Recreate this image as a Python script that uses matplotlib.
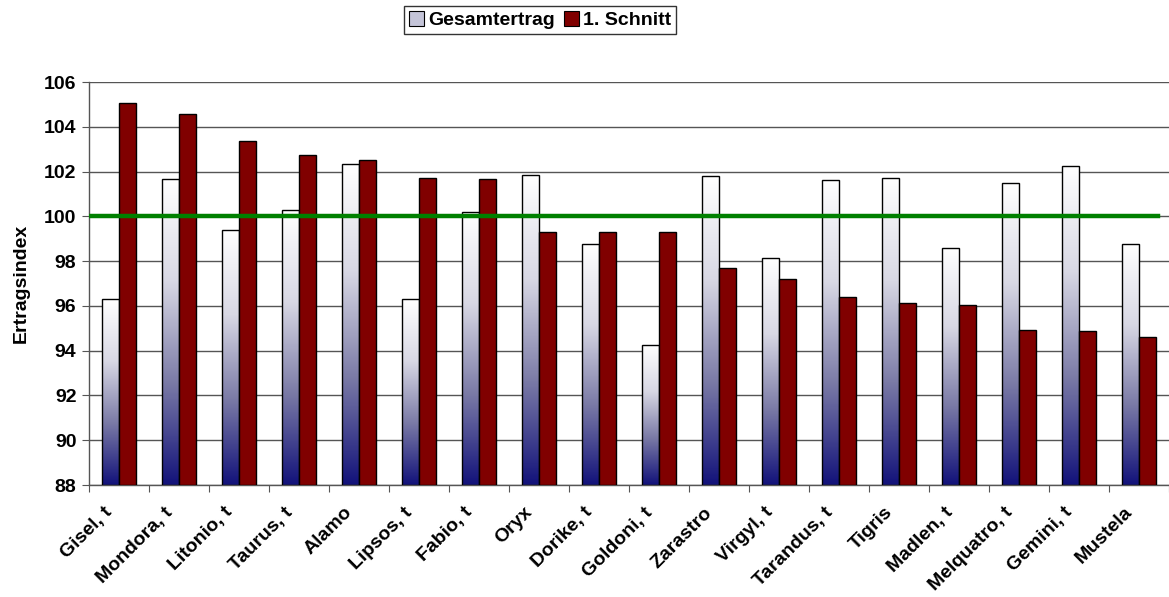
import matplotlib.pyplot as plt
import matplotlib.transforms as mtransforms
import numpy as np
from matplotlib.colors import LinearSegmentedColormap
from matplotlib.patches import Patch

plt.rcParams['font.family'] = ['Liberation Sans', 'DejaVu Sans']
plt.rcParams['font.weight'] = 'bold'

sorten = ['Gisel, t', 'Mondora, t', 'Litonio, t', 'Taurus, t', 'Alamo', 'Lipsos, t',
          'Fabio, t', 'Oryx', 'Dorike, t', 'Goldoni, t', 'Zarastro', 'Virgyl, t',
          'Tarandus, t', 'Tigris', 'Madlen, t', 'Melquatro, t', 'Gemini, t', 'Mustela']
gesamtertrag = [96.3, 101.65, 99.4, 100.27, 102.32, 96.3, 100.19, 101.83, 98.75,
                94.27, 101.8, 98.13, 101.62, 101.7, 98.6, 101.5, 102.25, 98.75]
schnitt1 = [105.05, 104.57, 103.37, 102.74, 102.53, 101.7, 101.68, 99.3, 99.28,
            99.28, 97.69, 97.22, 96.42, 96.15, 96.05, 94.92, 94.87, 94.63]
referenz = 100
yticks = np.arange(88, 107, 2)

# weiss -> lila-grau -> dunkelblau (Excel-Verlauf)
cmap = LinearSegmentedColormap.from_list('verlauf', ['#12127a', '#7a7aa6', '#d8d8e4', '#ffffff'])

fig = plt.figure(figsize=(11.69, 5.97), dpi=100)
ax = fig.add_axes([0.0761, 0.1876, 0.9239, 0.675])

x = np.arange(len(sorten))
w = 0.283
b1 = ax.bar(x - w / 2, np.array(gesamtertrag) - 88, w, bottom=88, facecolor='none',
            edgecolor='black', linewidth=1.0, zorder=3)
b2 = ax.bar(x + w / 2, np.array(schnitt1) - 88, w, bottom=88, color='#800000',
            edgecolor='black', linewidth=1.0, zorder=3)

grad = np.linspace(0, 1, 256).reshape(-1, 1)
for r in b1:
    x0, y0 = r.get_x(), r.get_y()
    im = ax.imshow(grad, cmap=cmap, origin='lower', aspect='auto',
                   extent=[x0, x0 + r.get_width(), y0, y0 + r.get_height()], zorder=2.5)
    im.set_clip_path(r)

ax.axhline(referenz, xmin=0, xmax=0.99, color='#008000', linewidth=3.2, zorder=4)

ax.set_xlim(-0.5, len(sorten) - 0.5)
ax.set_ylim(88, 106)
ax.set_yticks(yticks)
ax.tick_params(axis='y', labelsize=14, length=5, color='#555555', pad=4)
ax.yaxis.grid(True, color='#555555', linewidth=1.0, zorder=0)
ax.set_axisbelow(True)

ax.set_xticks(np.arange(len(sorten) + 1) - 0.5)
ax.set_xticklabels([])
ax.tick_params(axis='x', which='major', length=5, color='#555555')
ax.set_xticks(x, minor=True)
ax.set_xticklabels(sorten, minor=True, rotation=45, ha='right', va='center',
                   rotation_mode='anchor', fontsize=14)
ax.tick_params(axis='x', which='minor', length=0, pad=18)
# Beschriftungen etwas nach links schieben
shift = mtransforms.ScaledTranslation(-9 / 100, 0, fig.dpi_scale_trans)
for lbl in ax.get_xticklabels(minor=True):
    lbl.set_transform(lbl.get_transform() + shift)

for s in ['top', 'right']:
    ax.spines[s].set_visible(False)
for s in ['left', 'bottom']:
    ax.spines[s].set_color('#555555')
    ax.spines[s].set_linewidth(1.0)

ax.set_ylabel('Ertragsindex', fontsize=14, fontweight='bold', labelpad=10)

handles = [Patch(facecolor='#c4c4d8', edgecolor='black', linewidth=0.8),
           Patch(facecolor='#800000', edgecolor='black', linewidth=0.8)]
leg = fig.legend(handles, ['Gesamtertrag', '1. Schnitt'], loc='center',
                 bbox_to_anchor=(0.462, 0.966), ncol=2, fontsize=14, frameon=True,
                 fancybox=False, edgecolor='black', handlelength=0.75, handleheight=0.75,
                 handletextpad=0.2, columnspacing=0.5, borderpad=0.25, borderaxespad=0)
leg.get_frame().set_linewidth(1.0)

fig.savefig('out.png', dpi=100)
